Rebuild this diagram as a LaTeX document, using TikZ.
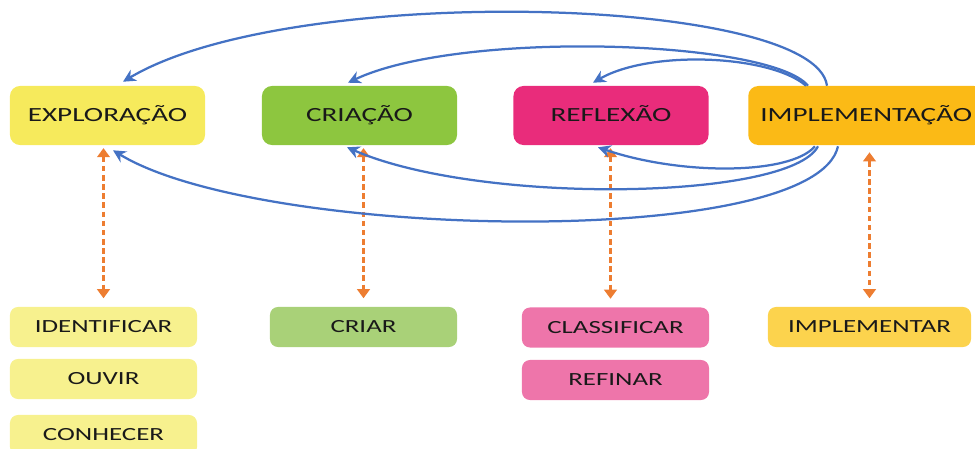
\documentclass[tikz,border=0pt]{standalone}
\usepackage{fontspec}
\setmainfont{Carlito}[FakeStretch=1.45]
\usetikzlibrary{arrows.meta,calc}

\definecolor{cExplo}{RGB}{246,234,92}
\definecolor{cCria}{RGB}{141,198,63}
\definecolor{cRefl}{RGB}{233,44,123}
\definecolor{cImpl}{RGB}{251,186,22}
\definecolor{cExploL}{RGB}{247,241,142}
\definecolor{cCriaL}{RGB}{169,209,120}
\definecolor{cReflL}{RGB}{238,117,170}
\definecolor{cImplL}{RGB}{252,211,77}
\definecolor{azul}{RGB}{68,114,196}
\definecolor{laranja}{RGB}{237,125,49}

\begin{document}
\begin{tikzpicture}[x=0.025cm,y=-0.025cm,
    fase/.style={rounded corners=0.25cm, minimum width=4.875cm, minimum height=1.475cm,
        inner xsep=0.3cm, text height=2ex, text depth=0.3ex,
        text=black!90, font=\fontsize{14.3}{17}\selectfont},
    acao/.style={rounded corners=0.2cm, minimum width=4.675cm, minimum height=1cm,
        text height=2ex, text depth=0.3ex,
        text=black!90, font=\fontsize{13.2}{16}\selectfont},
    ciclo/.style={draw=azul, line width=1.6pt, -{Stealth[length=9pt,width=9pt]}},
    liga/.style={draw=laranja, line width=2.2pt, dash pattern=on 4pt off 2.5pt,
        shorten <=2pt, shorten >=6pt,
        {Triangle[length=6.5pt,width=9pt]}-{Triangle[length=6.5pt,width=9pt]}}]
        \useasboundingbox (0,0) rectangle (975,448);

        % fases
        \node[fase, fill=cExplo] (explo) at (107.5,115.5) {EXPLORAÇÃO};
        \node[fase, fill=cCria] (cria) at (359.5,115.5) {CRIAÇÃO};
        \node[fase, fill=cRefl] (refl) at (611,115.5) {REFLEXÃO};
        \node[fase, fill=cImpl, anchor=west] (impl) at (748,115.5) {IMPLEMENTAÇÃO};

        % ações
        \node[acao, fill=cExploL] (ident) at (103.5,327) {IDENTIFICAR};
        \node[acao, fill=cExploL] (ouvir) at (103.5,379) {OUVIR};
        \node[acao, fill=cExploL] (conhecer) at (103.5,435) {CONHECER};
        \node[acao, fill=cCriaL] (criar) at (363.5,327) {CRIAR};
        \node[acao, fill=cReflL] (classif) at (615.5,327.5) {CLASSIFICAR};
        \node[acao, fill=cReflL] (refinar) at (615.5,380) {REFINAR};
        \node[acao, fill=cImplL, minimum width=5.075cm] (implementar) at (869.5,327) {IMPLEMENTAR};

        % ligações fase - ação
        \draw[liga] (ident |- explo.south) -- (ident.north);
        \draw[liga] (criar |- cria.south) -- (criar.north);
        \draw[liga] ($(classif |- refl.south)+(-5,0)$) -- ($(classif.north)+(-5,0)$);
        \draw[liga, shorten <=5pt] (implementar |- impl.south) -- (implementar.north);

        % ciclos por cima
        \draw[ciclo] ($(impl.north west)+(79,0)$) .. controls +(-12,-90) and +(167,-100) .. ($(explo.north)+(15.5,-4)$);
        \draw[ciclo] ($(impl.north west)+(60,0)$) .. controls +(-38,-46) and +(112,-53) .. ($(cria.north)+(-11.5,-3)$);
        \draw[ciclo] ($(impl.north west)+(58,0)$) .. controls +(-36,-31) and +(57,-33) .. ($(refl.north)+(-18,-3)$);

        % ciclos por baixo
        \draw[ciclo] ($(impl.south west)+(90,1)$) .. controls +(-23,104) and +(147,90) .. ($(explo.south)+(5.5,5)$);
        \draw[ciclo] ($(impl.south west)+(70,1)$) .. controls +(-28,54) and +(133,58) .. ($(cria.south)+(-12.5,2)$);
        \draw[ciclo] ($(impl.south west)+(67,1)$) .. controls +(-25,29) and +(82,28) .. ($(refl.south)+(-13,2)$);

    \end{tikzpicture}
\end{document}
